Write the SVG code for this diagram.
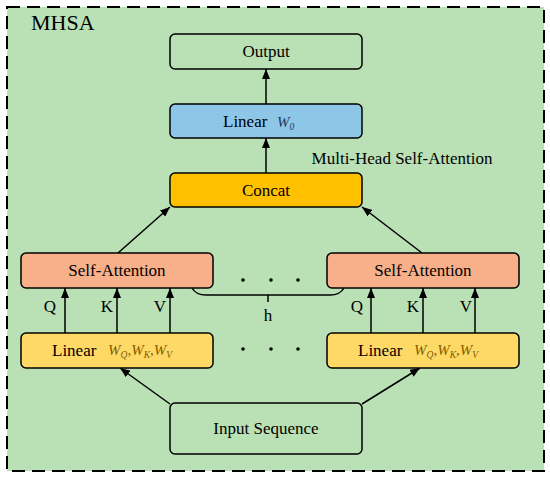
<svg xmlns="http://www.w3.org/2000/svg" width="550" height="477" viewBox="0 0 550 477">
<defs>
<style>
.box{stroke:#000;stroke-width:1.5}
.t{font-family:"Liberation Serif","Times New Roman",serif;font-size:17px;fill:#000}
.w{font-family:"Liberation Serif","Times New Roman",serif;font-style:italic;font-size:15px;fill:#7F6000}
.ws{font-family:"Liberation Serif","Times New Roman",serif;font-style:italic;font-size:9.5px;fill:#7F6000}
.wb{font-family:"Liberation Serif","Times New Roman",serif;font-style:italic;font-size:15px;fill:#1F3864}
.wbs{font-family:"Liberation Serif","Times New Roman",serif;font-size:9.5px;fill:#1F3864}
.c{stroke:#000;stroke-width:1.5;fill:none}
</style>
<marker id="ah" viewBox="0 0 10 8" refX="10" refY="4" markerWidth="10" markerHeight="8" markerUnits="userSpaceOnUse" orient="auto">
<path d="M0,0 L10,4 L0,8 Z" fill="#000"/>
</marker>
</defs>
<rect x="0" y="0" width="550" height="477" fill="#fff"/>
<g id="mhsa">
<rect x="7" y="7" width="537" height="464" fill="#BAE0B5" stroke="#000" stroke-width="2" stroke-dasharray="13,7"/>
<text x="31" y="30" font-family="Liberation Serif, serif" font-size="22px">MHSA</text>
</g>
<g id="connectors">
<line class="c" x1="266" y1="173" x2="266" y2="138" marker-end="url(#ah)"/>
<line class="c" x1="266" y1="104" x2="266" y2="69" marker-end="url(#ah)"/>
<line class="c" x1="118" y1="253" x2="170" y2="207" marker-end="url(#ah)"/>
<line class="c" x1="422" y1="253" x2="362" y2="207" marker-end="url(#ah)"/>
<line class="c" x1="65" y1="333" x2="65" y2="288" marker-end="url(#ah)"/>
<line class="c" x1="117" y1="333" x2="117" y2="288" marker-end="url(#ah)"/>
<line class="c" x1="170" y1="333" x2="170" y2="288" marker-end="url(#ah)"/>
<line class="c" x1="371" y1="333" x2="371" y2="288" marker-end="url(#ah)"/>
<line class="c" x1="423" y1="333" x2="423" y2="288" marker-end="url(#ah)"/>
<line class="c" x1="475" y1="333" x2="475" y2="288" marker-end="url(#ah)"/>
<line class="c" x1="170" y1="404" x2="120" y2="368" marker-end="url(#ah)"/>
<line class="c" x1="362" y1="404" x2="420" y2="368" marker-end="url(#ah)"/>
<path class="c" d="M192,288 Q196,295 206,295 L330,295 Q340,295 344,288"/>
<line class="c" x1="268" y1="295" x2="268" y2="302"/>
</g>
<g id="labels">
<text class="t" x="50" y="312" text-anchor="middle">Q</text>
<text class="t" x="107" y="312" text-anchor="middle">K</text>
<text class="t" x="160" y="312" text-anchor="middle">V</text>
<text class="t" x="357" y="312" text-anchor="middle">Q</text>
<text class="t" x="413" y="312" text-anchor="middle">K</text>
<text class="t" x="466" y="312" text-anchor="middle">V</text>
<text class="t" x="268" y="321" text-anchor="middle">h</text>
<text class="t" x="402" y="164" text-anchor="middle">Multi-Head Self-Attention</text>
<g fill="#000">
<circle cx="243" cy="280" r="1.8"/><circle cx="271" cy="280" r="1.8"/><circle cx="298" cy="280" r="1.8"/>
<circle cx="243" cy="349" r="1.8"/><circle cx="271" cy="349" r="1.8"/><circle cx="298" cy="349" r="1.8"/>
</g>
</g>
<g id="output">
<rect class="box" x="170" y="34" width="192" height="35" rx="5" fill="#BAE0B5"/>
<text class="t" x="266" y="57" text-anchor="middle">Output</text>
</g>
<g id="linear-w0">
<rect class="box" x="170" y="104" width="192" height="34" rx="5" fill="#8EC6E8"/>
<text class="t" x="223" y="127">Linear</text>
<text class="wb" x="277" y="127">W<tspan class="wbs" dy="3">0</tspan></text>
</g>
<g id="concat">
<rect class="box" x="170" y="173" width="192" height="34" rx="5" fill="#FFC000"/>
<text class="t" x="266" y="196" text-anchor="middle">Concat</text>
</g>
<g id="sa-left">
<rect class="box" x="21" y="253" width="192" height="35" rx="5" fill="#F8B08A"/>
<text class="t" x="117" y="276" text-anchor="middle">Self-Attention</text>
</g>
<g id="sa-right">
<rect class="box" x="327" y="253" width="192" height="35" rx="5" fill="#F8B08A"/>
<text class="t" x="423" y="276" text-anchor="middle">Self-Attention</text>
</g>
<g id="linear-left">
<rect class="box" x="21" y="333" width="192" height="35" rx="5" fill="#FFD966"/>
<text class="t" x="52" y="356">Linear</text>
<text class="w" x="108" y="355">W<tspan class="ws" dy="3">Q</tspan><tspan dy="-3">,W</tspan><tspan class="ws" dy="3">K</tspan><tspan dy="-3">,W</tspan><tspan class="ws" dy="3">V</tspan></text>
</g>
<g id="linear-right">
<rect class="box" x="327" y="333" width="192" height="35" rx="5" fill="#FFD966"/>
<text class="t" x="358" y="356">Linear</text>
<text class="w" x="414" y="355">W<tspan class="ws" dy="3">Q</tspan><tspan dy="-3">,W</tspan><tspan class="ws" dy="3">K</tspan><tspan dy="-3">,W</tspan><tspan class="ws" dy="3">V</tspan></text>
</g>
<g id="input">
<rect class="box" x="170" y="403" width="192" height="51" rx="5" fill="#BAE0B5"/>
<text class="t" x="266" y="434" text-anchor="middle">Input Sequence</text>
</g>
</svg>
